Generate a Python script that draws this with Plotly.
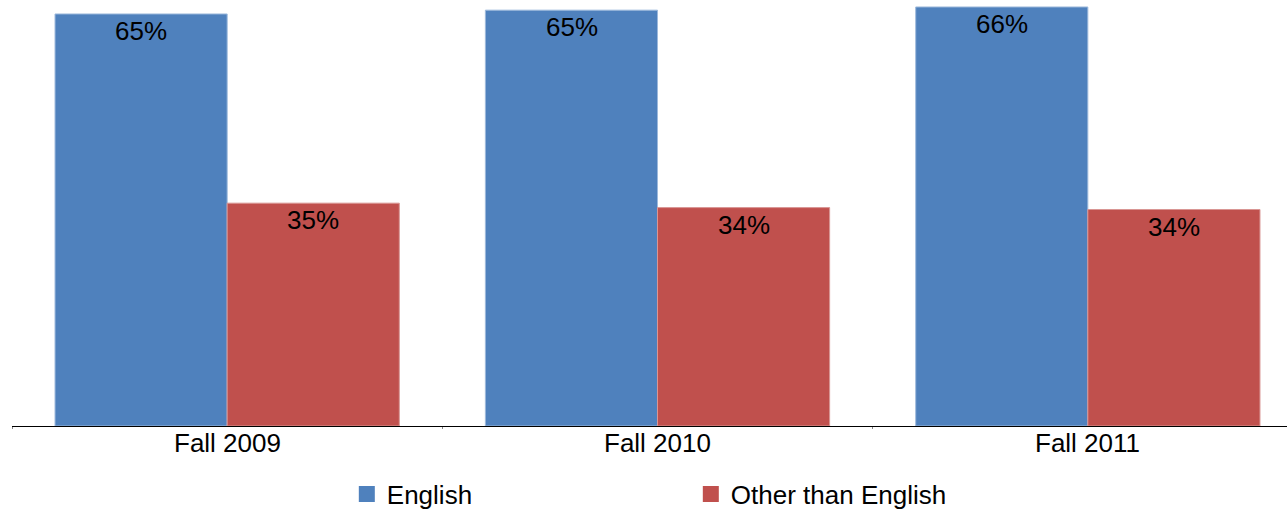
import plotly.graph_objects as go

categories = ["Fall 2009", "Fall 2010", "Fall 2011"]
english = [64.9, 65.5, 66.0]
other = [35.1, 34.4, 34.1]
english_labels = ["65%", "65%", "66%"]
other_labels = ["35%", "34%", "34%"]

BLUE = "#4F81BD"
RED = "#C0504D"
FONT = "Liberation Sans, Arial, sans-serif"

fig = go.Figure()
fig.add_trace(go.Bar(
    x=categories, y=english, name="English",
    marker=dict(color=BLUE, line=dict(color="#9DB9DC", width=1)),
    showlegend=False, hoverinfo="skip",
))
fig.add_trace(go.Bar(
    x=categories, y=other, name="Other than English",
    marker=dict(color=RED, line=dict(color="#D99694", width=1)),
    showlegend=False, hoverinfo="skip",
))
# legend proxies
for nm, col in [("English", BLUE), ("Other than English", RED)]:
    fig.add_trace(go.Scatter(
        x=[None], y=[None], mode="markers", name=nm,
        marker=dict(symbol="square", size=16, color=col),
        showlegend=True,
    ))

# value labels inside the top of each bar
for vals, labs, shift in [(english, english_labels, -86), (other, other_labels, 86)]:
    for c, v, t in zip(categories, vals, labs):
        fig.add_annotation(
            x=c, y=v, text=t, showarrow=False, xshift=shift, yshift=0,
            yanchor="top", xanchor="center",
            font=dict(size=26, color="black", family=FONT),
        )

# category labels under the axis
for c in categories:
    fig.add_annotation(
        x=c, y=0, yref="paper", text=c, showarrow=False, yshift=0,
        yanchor="top", xanchor="center",
        font=dict(size=26, color="black", family=FONT),
    )

fig.update_layout(
    width=1287, height=518,
    margin=dict(l=12, r=0, t=0, b=89),
    paper_bgcolor="white", plot_bgcolor="white",
    barmode="group", bargap=0.2, bargroupgap=0,
    font=dict(family=FONT, size=26, color="black"),
    legend=dict(
        orientation="h", x=0.2626, xanchor="left", y=-0.16, yanchor="middle",
        font=dict(size=26, color="black", family=FONT),
        entrywidth=299, entrywidthmode="pixels",
        bgcolor="rgba(0,0,0,0)", borderwidth=0,
    ),
    xaxis=dict(
        range=[-0.5, 2.5 - 16 / 430], showline=True, linecolor="black",
        linewidth=1, ticks="outside", tickson="boundaries", ticklen=2,
        tickcolor="#888888", showgrid=False, zeroline=False,
        showticklabels=False,
    ),
    yaxis=dict(range=[0, 67.1], visible=False, showgrid=False, zeroline=False),
)

fig.write_html(
    "out.html",
    config={"displayModeBar": False},
    post_script="document.body.style.margin='0px';document.body.style.overflow='hidden';",
)
